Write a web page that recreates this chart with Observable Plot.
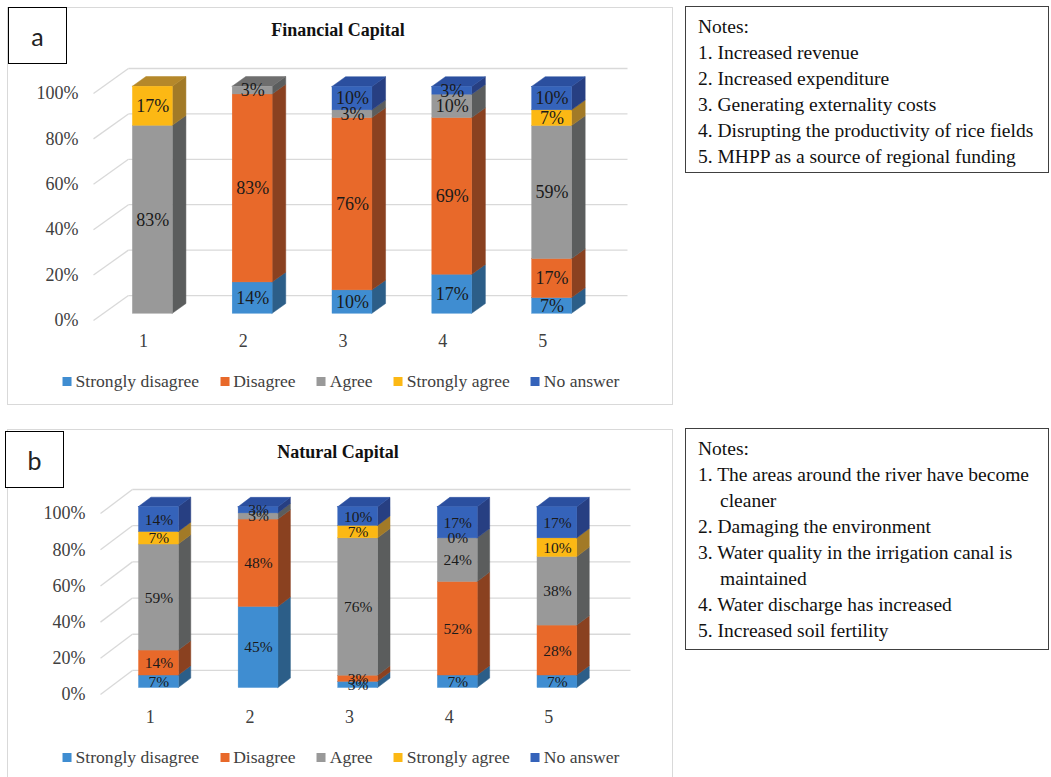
<!DOCTYPE html>
<html><head><meta charset="utf-8">
<script src="https://cdn.jsdelivr.net/npm/d3@7"></script>
<script src="https://cdn.jsdelivr.net/npm/@observablehq/plot@0.6"></script>
<style>
body{margin:0;background:#fff;width:1051px;height:777px;overflow:hidden;position:relative;font-family:"Liberation Serif","Times New Roman",serif;color:#222}
.panel{position:absolute;border:1px solid #d9d9d9;box-sizing:border-box}
.tag{position:absolute;border:1.5px solid #000;background:#fff;box-sizing:border-box;font-family:Lato,"Open Sans",sans-serif;font-size:25px;display:flex;align-items:center;justify-content:center;z-index:3}
.title{position:absolute;font-weight:bold;font-size:18px;line-height:20px;transform:translateX(-50%);white-space:nowrap;color:#111}
.legend{position:absolute;display:flex;gap:21px;font-size:17.6px;line-height:20px;color:#404040;white-space:nowrap;transform:translateX(-50%)}
.legend .it{display:flex;align-items:center}
.legend .sw{display:inline-block;width:9px;height:9px;margin-right:4px}
.notes{position:absolute;border:1px solid #404040;box-sizing:border-box;font-size:19.5px;line-height:26px;padding:7px 0 0 12px;color:#111;white-space:nowrap}
.notes .cont{padding-left:22px}
.plotwrap{position:absolute;left:0}
</style></head>
<body>
<div class="panel" style="left:7px;top:7px;width:666px;height:398px"></div>
<div class="tag" style="left:8px;top:7px;width:59px;height:57px">a</div>
<div class="title" id="titleA" style="left:338px;top:20px"></div>
<div class="plotwrap" id="plotA" style="top:0px"></div>
<div class="legend" id="legendA" style="left:341px;top:371px"></div>
<div class="notes" id="notesA" style="left:685px;top:6px;width:364px;height:167px"></div>

<div class="panel" style="left:7px;top:429px;width:666px;height:360px"></div>
<div class="tag" style="left:5px;top:431px;width:59px;height:57px">b</div>
<div class="title" id="titleB" style="left:338px;top:442px"></div>
<div class="plotwrap" id="plotB" style="top:420px"></div>
<div class="legend" id="legendB" style="left:341px;top:747px"></div>
<div class="notes" id="notesB" style="left:685px;top:428px;width:364px;height:222px"></div>

<script>
// ---- data ----
const categories = [1, 2, 3, 4, 5];
const responses = ["Strongly disagree", "Disagree", "Agree", "Strongly agree", "No answer"];
const yTicks = [0, 20, 40, 60, 80, 100];

// Financial Capital (null = no segment / no label)
const finStronglyDisagree = [null, 13.8, 10.3, 17.2, 6.9];
const finDisagree         = [null, 82.8, 75.9, 69.0, 17.2];
const finAgree            = [82.8, 3.4, 3.4, 10.3, 58.6];
const finStronglyAgree    = [17.2, null, null, null, 6.9];
const finNoAnswer         = [null, null, 10.3, 3.4, 10.3];

// Natural Capital
const natStronglyDisagree = [6.9, 44.8, 3.4, 6.9, 6.9];
const natDisagree         = [13.8, 48.3, 3.4, 51.7, 27.6];
const natAgree            = [58.6, 3.4, 75.9, 24.1, 37.9];
const natStronglyAgree    = [6.9, null, 6.9, 0, 10.3];
const natNoAnswer         = [13.8, 3.4, 10.3, 17.2, 17.2];

const titleA = "Financial Capital";
const titleB = "Natural Capital";
const notesA = [["Notes:"], ["1. Increased revenue"], ["2. Increased expenditure"], ["3. Generating externality costs"],
  ["4. Disrupting the productivity of rice fields"], ["5. MHPP as a source of regional funding"]];
const notesB = [["Notes:"], ["1. The areas around the river have become", "cleaner"], ["2. Damaging the environment"],
  ["3. Water quality in the irrigation canal is", "maintained"], ["4. Water discharge has increased"], ["5. Increased soil fertility"]];

// ---- styles ----
const frontColors = ["#3f8dd1", "#e8692a", "#999999", "#fcb814", "#3563ba"];
const sideColors  = ["#2c5e88", "#8a4120", "#5b5d5d", "#a27a27", "#273f82"];
const topColors   = ["#3370a8", "#b0552a", "#6e6e6e", "#b5882a", "#2b4f9f"];

function panel(seriesList, g) {
  const W = 0.4, f0 = 0.27, f1 = 0.66;
  const fronts = [], tops = [], labels = [];
  categories.forEach((c, i) => {
    let base = 0, topSeg = null;
    seriesList.forEach((vals, k) => {
      const v = vals[i];
      if (v === null) return;
      const seg = {cat: c, k, y0: base, y1: base + v, v, id: c + "-" + k};
      base += v;
      labels.push(seg);
      if (v > 0) { fronts.push(seg); topSeg = seg; }
    });
    if (topSeg) tops.push(topSeg);
  });
  const xL = d => d.cat - W / 2 + f0 * g.DX;
  const xR = d => d.cat + W / 2 + f0 * g.DX;
  const dd = (f1 - f0) * g.DX, ddy = (f1 - f0) * g.DY;
  const marks = [];
  marks.push(Plot.link(yTicks, {x1: 0.5, y1: d => d, x2: 0.5 + g.DX, y2: d => d + g.DY, stroke: "#d9d9d9", strokeWidth: 1.3}));
  marks.push(Plot.link(yTicks, {x1: 0.5 + g.DX, y1: d => d + g.DY, x2: 5.5 + g.DX, y2: d => d + g.DY, stroke: "#d9d9d9", strokeWidth: 1.3}));
  responses.forEach((r, k) => {
    const segs = fronts.filter(d => d.k === k);
    const sidePts = segs.flatMap(d => [
      {id: d.id, x: xR(d), lo: d.y0 + f0 * g.DY, hi: d.y1 + f0 * g.DY},
      {id: d.id, x: xR(d) + dd, lo: d.y0 + f0 * g.DY + ddy, hi: d.y1 + f0 * g.DY + ddy}
    ]);
    marks.push(Plot.area(sidePts, {x1: "x", y1: "lo", y2: "hi", z: "id", fill: sideColors[k], stroke: sideColors[k], strokeWidth: 0.5}));
    const topPts = tops.filter(d => d.k === k).flatMap(d => {
      const yt = d.y1 + f0 * g.DY;
      return [
        {id: d.id, x: xL(d), lo: yt, hi: yt},
        {id: d.id, x: xL(d) + dd, lo: yt, hi: yt + ddy},
        {id: d.id, x: xR(d), lo: yt, hi: yt + ddy},
        {id: d.id, x: xR(d) + dd, lo: yt + ddy, hi: yt + ddy}
      ];
    });
    marks.push(Plot.area(topPts, {x1: "x", y1: "lo", y2: "hi", z: "id", fill: topColors[k], stroke: topColors[k], strokeWidth: 0.5}));
    marks.push(Plot.rect(segs, {x1: xL, x2: xR, y1: d => d.y0 + f0 * g.DY, y2: d => d.y1 + f0 * g.DY, fill: frontColors[k], stroke: frontColors[k], strokeWidth: 0.4}));
  });
  marks.push(Plot.text(labels, {x: d => d.cat + f0 * g.DX, y: d => (d.y0 + d.y1) / 2 + f0 * g.DY,
    text: d => Math.round(d.v) + "%", fontSize: g.labelSize, fill: "#1a1a1a"}));
  marks.push(Plot.axisY(yTicks, {tickSize: 0, tickPadding: 15, tickFormat: d => d + "%", fontSize: 18, fill: "#404040", label: null}));
  marks.push(Plot.axisX(categories, {tickSize: 0, tickPadding: g.xPad, tickFormat: d => String(d), fontSize: 18, fill: "#404040", label: null}));
  return Plot.plot({
    width: 680, height: g.height,
    marginLeft: g.ml, marginRight: g.mr, marginTop: g.mt, marginBottom: g.mb,
    x: {type: "linear", domain: [0.5, 5.5 + g.DX]},
    y: {type: "linear", domain: [0, 100 + g.DY]},
    style: {fontFamily: '"Liberation Serif", "Times New Roman", serif', fontSize: "17px", background: "transparent", overflow: "visible"},
    marks
  });
}

document.getElementById("plotA").appendChild(panel(
  [finStronglyDisagree, finDisagree, finAgree, finStronglyAgree, finNoAnswer],
  {height: 400, ml: 93, mr: 53, mt: 68, mb: 80, DX: 0.35, DY: 11, labelSize: 18, xPad: 14}));
document.getElementById("plotB").appendChild(panel(
  [natStronglyDisagree, natDisagree, natAgree, natStronglyAgree, natNoAnswer],
  {height: 357, ml: 100, mr: 50, mt: 69, mb: 83, DX: 0.32, DY: 13.3, labelSize: 15.5, xPad: 16}));

document.getElementById("titleA").textContent = titleA;
document.getElementById("titleB").textContent = titleB;

for (const id of ["legendA", "legendB"]) {
  const el = document.getElementById(id);
  responses.forEach((r, k) => {
    const it = document.createElement("div"); it.className = "it";
    const sw = document.createElement("span"); sw.className = "sw"; sw.style.background = frontColors[k];
    it.appendChild(sw); it.appendChild(document.createTextNode(r));
    el.appendChild(it);
  });
}
function fillNotes(id, notes) {
  const el = document.getElementById(id);
  notes.forEach(lines => lines.forEach((t, j) => {
    const d = document.createElement("div"); if (j > 0) d.className = "cont"; d.textContent = t; el.appendChild(d);
  }));
}
fillNotes("notesA", notesA);
fillNotes("notesB", notesB);
</script>
</body></html>
